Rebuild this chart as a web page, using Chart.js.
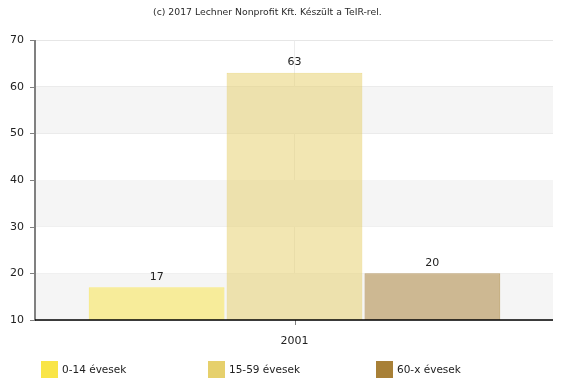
<!DOCTYPE html>
<html>
<head>
<meta charset="utf-8">
<script src="https://cdn.jsdelivr.net/npm/chart.js@4"></script>
<style>
  html, body { margin: 0; padding: 0; background: #fff; }
  #wrap { position: relative; width: 575px; height: 388px; }
  #title {
    position: absolute; left: 153px; top: 6px; white-space: nowrap;
    font: 9.3px "DejaVu Sans", sans-serif; color: #2a2a2a;
  }
  #legend { position: absolute; left: 0; top: 361px; width: 575px; height: 17px; }
  .item { position: absolute; top: 0; height: 17px; font: 10.5px "DejaVu Sans", sans-serif; color: #222; line-height: 17px; white-space: nowrap; }
  .box { position: absolute; left: 0; top: 0; width: 17px; height: 17px; }
  .item span.txt { position: absolute; left: 21px; top: 0; }
</style>
</head>
<body>
<div id="wrap">
  <canvas id="chart" width="575" height="388"></canvas>
  <div id="title">(c) 2017 Lechner Nonprofit Kft. Készült a TeIR-rel.</div>
  <div id="legend"></div>
</div>
<script>
const categories = ["2001"];
const seriesNames = ["0-14 évesek", "15-59 évesek", "60-x évesek"];
const seriesValues = [[17], [63], [20]];
const seriesColors = ["#f9e547", "#e6d06c", "#a88037"];
const yTicks = [10, 20, 30, 40, 50, 60, 70];

function withAlpha(hex, a) {
  const n = parseInt(hex.slice(1), 16);
  return `rgba(${(n >> 16) & 255}, ${(n >> 8) & 255}, ${n & 255}, ${a})`;
}

// gray bands 10-20, 30-40, 50-60
const bandsPlugin = {
  id: "bands",
  beforeDatasetsDraw(chart) {
    const { ctx, chartArea, scales } = chart;
    ctx.save();
    ctx.fillStyle = "#f5f5f5";
    for (let i = 0; i < yTicks.length - 1; i += 2) {
      const y1 = scales.y.getPixelForValue(yTicks[i]);
      const y2 = scales.y.getPixelForValue(yTicks[i + 1]);
      ctx.fillRect(chartArea.left, y2, chartArea.right - chartArea.left, y1 - y2);
    }
    ctx.restore();
  },
};

const valueLabels = {
  id: "valueLabels",
  afterDatasetsDraw(chart) {
    const { ctx } = chart;
    ctx.save();
    ctx.font = '11px "DejaVu Sans", sans-serif';
    ctx.fillStyle = "#222";
    ctx.textAlign = "center";
    ctx.textBaseline = "bottom";
    chart.data.datasets.forEach((ds, i) => {
      chart.getDatasetMeta(i).data.forEach((bar, j) => {
        ctx.fillText(ds.data[j], bar.x, bar.y - 5);
      });
    });
    ctx.restore();
  },
};

// axis lines + tick marks drawn on top
const axisLines = {
  id: "axisLines",
  afterDraw(chart) {
    const { ctx, chartArea, scales } = chart;
    ctx.save();
    ctx.strokeStyle = "#808080";
    ctx.lineWidth = 1;
    ctx.beginPath();
    yTicks.forEach((v) => {
      const y = Math.round(scales.y.getPixelForValue(v)) + 0.5;
      ctx.moveTo(chartArea.left - 6, y);
      ctx.lineTo(chartArea.left, y);
    });
    scales.x.ticks.forEach((t, i) => {
      const x = Math.round(scales.x.getPixelForTick(i)) + 0.5;
      ctx.moveTo(x, chartArea.bottom);
      ctx.lineTo(x, chartArea.bottom + 5);
    });
    ctx.stroke();
    ctx.lineWidth = 2;
    ctx.beginPath();
    ctx.moveTo(chartArea.left - 1, chartArea.top);
    ctx.lineTo(chartArea.left - 1, chartArea.bottom);
    ctx.stroke();
    ctx.strokeStyle = "#000";
    ctx.lineWidth = 1.5;
    ctx.beginPath();
    ctx.moveTo(chartArea.left - 1, chartArea.bottom);
    ctx.lineTo(chartArea.right, chartArea.bottom);
    ctx.stroke();
    ctx.restore();
  },
};

const ctx = document.getElementById("chart").getContext("2d");
new Chart(ctx, {
  type: "bar",
  data: {
    labels: categories,
    datasets: seriesNames.map((name, i) => ({
      label: name,
      data: seriesValues[i],
      backgroundColor: withAlpha(seriesColors[i], 0.52),
      borderColor: withAlpha(seriesColors[i], 0.7),
      borderWidth: 1,
      categoryPercentage: 0.8,
      barPercentage: 0.985,
    })),
  },
  options: {
    responsive: false,
    animation: false,
    layout: { padding: { left: 0, right: 22, top: 40, bottom: 0 } },
    plugins: {
      legend: { display: false },
      title: { display: false },
      tooltip: { enabled: false },
    },
    scales: {
      x: {
        grid: { offset: false, color: "#ececec", drawTicks: false },
        border: { display: false },
        ticks: { color: "#222", font: { family: "DejaVu Sans", size: 11 }, padding: 15 },
        afterFit(scale) { scale.height = 68; },
      },
      y: {
        min: 10,
        max: 70,
        ticks: { stepSize: 10, color: "#222", font: { family: "DejaVu Sans", size: 11 }, padding: 12 },
        grid: { color: "#e6e6e6", drawTicks: false },
        border: { display: false },
        afterFit(scale) { scale.width = 36; },
      },
    },
  },
  plugins: [bandsPlugin, valueLabels, axisLines],
});

const legendX = [41, 208, 376];
const legend = document.getElementById("legend");
seriesNames.forEach((name, i) => {
  const item = document.createElement("div");
  item.className = "item";
  item.style.left = legendX[i] + "px";
  item.innerHTML = `<span class="box" style="background:${seriesColors[i]}"></span><span class="txt">${name}</span>`;
  legend.appendChild(item);
});
</script>
</body>
</html>
